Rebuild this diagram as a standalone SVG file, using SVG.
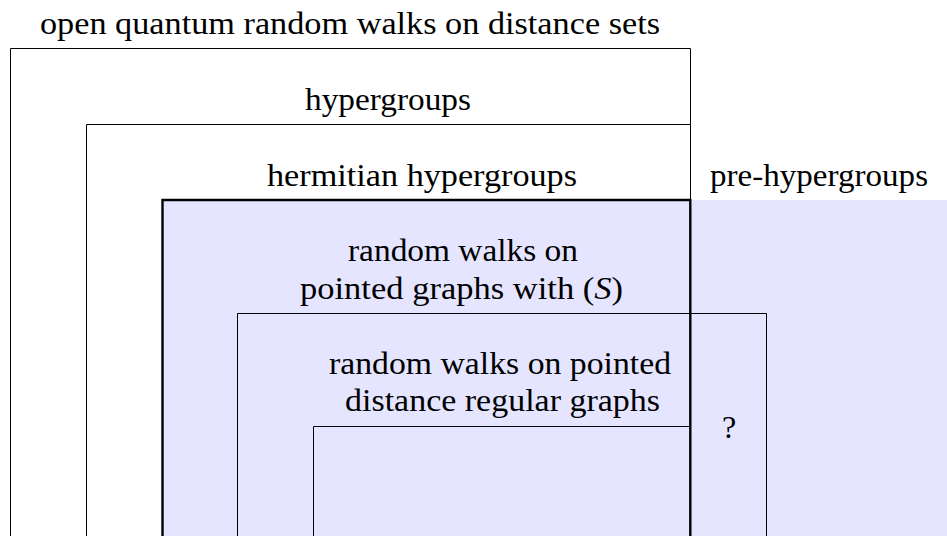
<svg xmlns="http://www.w3.org/2000/svg" width="947" height="536" viewBox="0 0 947 536">
<style>
.t{font-size:32px;fill:#000;text-anchor:start}
.thin{fill:none;stroke:#000;stroke-width:1}
.thick{fill:none;stroke:#000;stroke-width:2.4}
</style>
<rect id="shade" x="162" y="200" width="785" height="336" fill="#e5e5ff"/>
<g font-family="Liberation Serif, Tinos, Times New Roman, DejaVu Serif, serif">
<g id="open-quantum">
<path class="thin" d="M10.5,536 V48.5 H690.5 V536"/>
<text class="t" x="40" y="34" textLength="620" lengthAdjust="spacingAndGlyphs">open quantum random walks on distance sets</text>
</g>
<g id="hypergroups">
<path class="thin" d="M86.5,536 V124.5 H690.5 V536"/>
<text class="t" x="305" y="110" textLength="166" lengthAdjust="spacingAndGlyphs">hypergroups</text>
</g>
<g id="hermitian">
<path class="thick" d="M162.5,536 V200 H690.3 V536"/>
<text class="t" x="267" y="186" textLength="310" lengthAdjust="spacingAndGlyphs">hermitian hypergroups</text>
</g>
<g id="pre-hypergroups">
<text class="t" x="710" y="186" textLength="218" lengthAdjust="spacingAndGlyphs">pre-hypergroups</text>
</g>
<g id="pointed-S">
<path class="thin" d="M237.5,536 V313.5 H766.5 V536"/>
<text class="t" x="348" y="261" textLength="230" lengthAdjust="spacingAndGlyphs">random walks on</text>
<text class="t" x="300" y="299" textLength="323" lengthAdjust="spacingAndGlyphs">pointed graphs with (<tspan font-style="italic">S</tspan>)</text>
</g>
<g id="distance-regular">
<path class="thin" d="M313.5,536 V426.5 H690"/>
<text class="t" x="329" y="374" textLength="342" lengthAdjust="spacingAndGlyphs">random walks on pointed</text>
<text class="t" x="345" y="411" textLength="315" lengthAdjust="spacingAndGlyphs">distance regular graphs</text>
</g>
<g id="question">
<text class="t" x="722" y="438">?</text>
</g>
</g>
<g id="connectors"></g>
</svg>
